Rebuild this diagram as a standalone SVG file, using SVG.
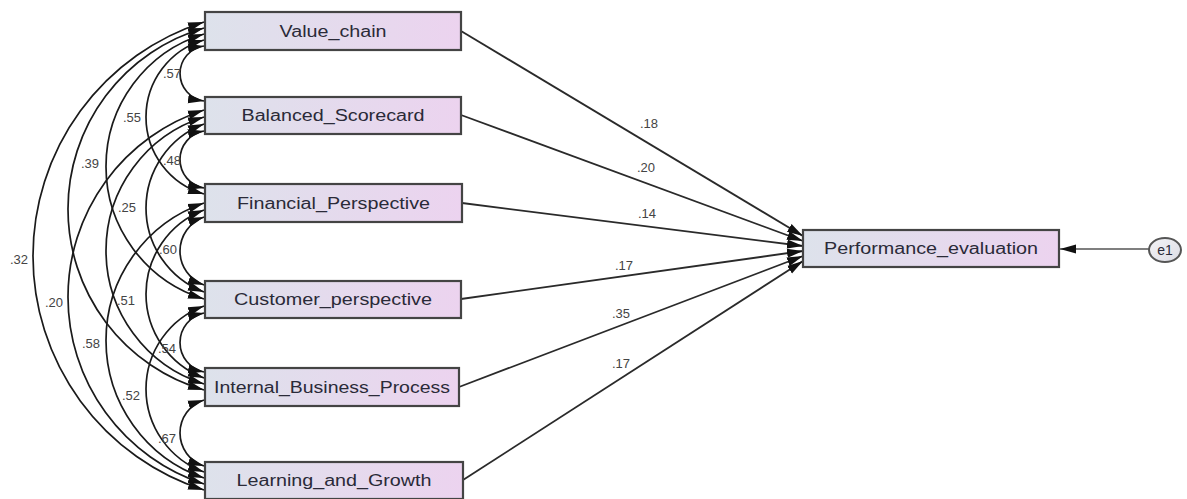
<svg xmlns="http://www.w3.org/2000/svg" width="1187" height="499" viewBox="0 0 1187 499">
<style>
.box{fill:url(#boxg);stroke:#444;stroke-width:2.2}
.lbl{font-family:"Liberation Sans",Arial,sans-serif;font-size:16px;fill:#2a2a38;text-anchor:middle}
.num{font-family:"Liberation Sans",Arial,sans-serif;font-size:13px;fill:#444}
.cov{fill:none;stroke:#1a1a1a;stroke-width:1.7;marker-start:url(#ah);marker-end:url(#ah)}
.path{fill:none;stroke:#2a2a2a;stroke-width:1.8;marker-end:url(#ah)}
</style>
<defs>
<linearGradient id="boxg" x1="0" y1="0" x2="1" y2="0">
<stop offset="0" stop-color="#dde2eb"/>
<stop offset="1" stop-color="#ecd3ef"/>
</linearGradient>
<linearGradient id="eg" x1="0" y1="0" x2="1" y2="1">
<stop offset="0" stop-color="#f4f4f7"/>
<stop offset="1" stop-color="#dcdce4"/>
</linearGradient>
<marker id="ah" markerUnits="userSpaceOnUse" markerWidth="17" markerHeight="11" viewBox="0 0 17 11" refX="16" refY="5.5" orient="auto-start-reverse">
<path d="M0,1 L16,5.5 L0,10 z" fill="#111"/>
</marker>
</defs>
<rect width="1187" height="499" fill="#ffffff"/>
<g id="connectors">
<path class="cov" d="M204,46 A27.76 27.76 0 0 0 204,101"/>
<path class="cov" d="M204,131 A28.92 28.92 0 0 0 204,188"/>
<path class="cov" d="M204,217 A36.08 36.08 0 0 0 204,285"/>
<path class="cov" d="M204,313 A30.13 30.13 0 0 0 204,372"/>
<path class="cov" d="M204,400 A34.69 34.69 0 0 0 204,466"/>
<path class="cov" d="M204,40 A80.11 80.11 0 0 0 204,194"/>
<path class="cov" d="M204,124 A89.83 89.83 0 0 0 204,292"/>
<path class="cov" d="M204,210 A89.83 89.83 0 0 0 204,378"/>
<path class="cov" d="M204,306 A88.39 88.39 0 0 0 204,472"/>
<path class="cov" d="M204,34 A138.57 138.57 0 0 0 204,299"/>
<path class="cov" d="M204,117 A139.93 139.93 0 0 0 204,384"/>
<path class="cov" d="M204,203 A145.46 145.46 0 0 0 204,478"/>
<path class="cov" d="M204,28 A188.44 188.44 0 0 0 204,390"/>
<path class="cov" d="M204,110 A196.56 196.56 0 0 0 204,484"/>
<path class="cov" d="M204,22 A245.6 245.6 0 0 0 204,490"/>
<path class="path" d="M461,31 L803,236"/>
<path class="path" d="M461,115 L803,241"/>
<path class="path" d="M462,203 L803,246"/>
<path class="path" d="M461,299 L803,251"/>
<path class="path" d="M459,387 L803,256"/>
<path class="path" d="M463,480 L803,261"/>
<path fill="none" stroke="#555" stroke-width="1.3" marker-end="url(#ah)" d="M1149,249 L1060,249"/>
<text class="num" x="163" y="78">.57</text>
<text class="num" x="123" y="122">.55</text>
<text class="num" x="81" y="168">.39</text>
<text class="num" x="163" y="165">.48</text>
<text class="num" x="118" y="212">.25</text>
<text class="num" x="159" y="254">.60</text>
<text class="num" x="10" y="264">.32</text>
<text class="num" x="45" y="307">.20</text>
<text class="num" x="117" y="305">.51</text>
<text class="num" x="82" y="348">.58</text>
<text class="num" x="158" y="353">.54</text>
<text class="num" x="122" y="400">.52</text>
<text class="num" x="158" y="443">.67</text>
<text class="num" x="640" y="128">.18</text>
<text class="num" x="637" y="172">.20</text>
<text class="num" x="638" y="218">.14</text>
<text class="num" x="615" y="270">.17</text>
<text class="num" x="612" y="318">.35</text>
<text class="num" x="612" y="368">.17</text>
</g>
<g id="value_chain">
<rect class="box" x="205" y="12" width="256" height="38"/>
<text class="lbl" x="333" y="37" textLength="107" lengthAdjust="spacingAndGlyphs">Value_chain</text>
</g>
<g id="balanced_scorecard">
<rect class="box" x="205" y="97" width="256" height="37"/>
<text class="lbl" x="333" y="121" textLength="183" lengthAdjust="spacingAndGlyphs">Balanced_Scorecard</text>
</g>
<g id="financial_perspective">
<rect class="box" x="205" y="184" width="257" height="38"/>
<text class="lbl" x="333.5" y="209" textLength="193" lengthAdjust="spacingAndGlyphs">Financial_Perspective</text>
</g>
<g id="customer_perspective">
<rect class="box" x="205" y="281" width="256" height="37"/>
<text class="lbl" x="333" y="305" textLength="198" lengthAdjust="spacingAndGlyphs">Customer_perspective</text>
</g>
<g id="internal_business_process">
<rect class="box" x="205" y="368" width="254" height="38"/>
<text class="lbl" x="332" y="393" textLength="236" lengthAdjust="spacingAndGlyphs">Internal_Business_Process</text>
</g>
<g id="learning_and_growth">
<rect class="box" x="205" y="462" width="258" height="37"/>
<text class="lbl" x="334" y="486" textLength="195" lengthAdjust="spacingAndGlyphs">Learning_and_Growth</text>
</g>
<g id="performance_evaluation">
<rect class="box" x="803" y="230" width="256" height="37"/>
<text class="lbl" x="931" y="254" textLength="214" lengthAdjust="spacingAndGlyphs">Performance_evaluation</text>
</g>
<g id="e1">
<ellipse cx="1165" cy="250" rx="16" ry="12" fill="url(#eg)" stroke="#555" stroke-width="2"/>
<text class="lbl" x="1165" y="255" style="font-size:14px">e1</text>
</g>
</svg>
